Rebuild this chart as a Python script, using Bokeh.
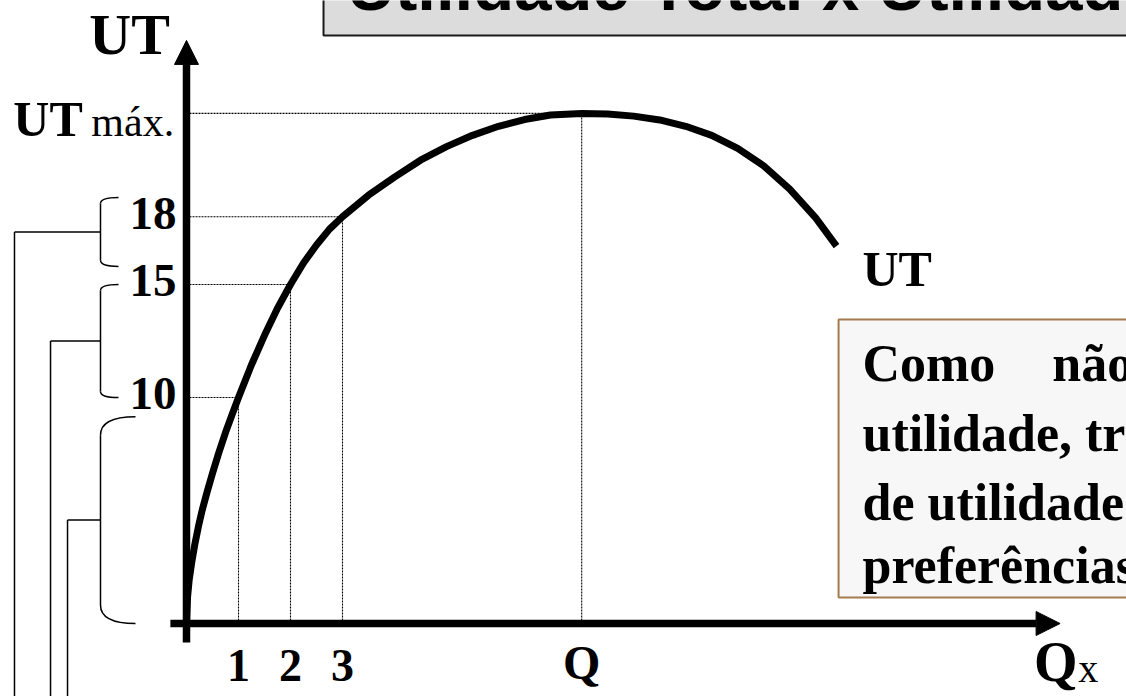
from bokeh.plotting import figure
from bokeh.models import Range1d, Arrow, NormalHead
from bokeh.core.properties import value
from bokeh.embed import file_html
from bokeh.resources import INLINE

# ---- data -------------------------------------------------------------
# Total utility (UT) as a function of the quantity consumed (Qx)
quantity = [0, 0.02, 0.05, 0.1, 0.16, 0.23, 0.3, 0.4, 0.5, 0.62, 0.75, 0.87,
            1.0, 1.25, 1.5, 1.75, 2.0, 2.25, 2.5, 2.75, 3.0, 3.5, 4.0, 4.5,
            5.0, 5.5, 6.0, 6.5, 7.0, 7.6, 8.1, 8.6, 9.1, 9.6, 10.1, 10.6,
            11.1, 11.6, 12.1, 12.5]
total_utility = [0, 1.17, 1.9, 2.7, 3.5, 4.3, 5.0, 5.85, 6.65, 7.55, 8.45, 9.2,
                 10.0, 11.45, 12.75, 13.95, 15.0, 15.95, 16.75, 17.45, 18.0,
                 18.95, 19.75, 20.5, 21.1, 21.6, 22.0, 22.3, 22.5, 22.57,
                 22.54, 22.45, 22.28, 22.0, 21.6, 21.02, 20.25, 19.22, 17.95,
                 16.7]

# highlighted units and their total utility
marked_q = [1, 2, 3]
marked_ut = [10, 15, 18]
q_tick_labels = ["1", "2", "3"]
ut_tick_labels = ["10", "15", "18"]

# quantity at which total utility peaks, and that peak
q_peak = 7.6
ut_peak = 22.57

title_text = "Utilidade Total x Utilidade"
note_first_line = ["Como", "não"]
note_lines = ["utilidade, tr", "de utilidade", "preferências"]

SERIF = value("Liberation Serif")
SANS = value("Liberation Sans")

# ---- figure -----------------------------------------------------------
p = figure(width=1126, height=696, output_backend="svg", toolbar_location=None,
           x_axis_type=None, y_axis_type=None, min_border=0,
           x_range=Range1d(-3.577, 18.077), y_range=Range1d(-3.230, 27.566))
p.outline_line_color = None
p.background_fill_color = "white"
p.border_fill_color = "white"

# title banner
p.quad(left=[2.635], right=[18.6], bottom=[26.02], top=[28.5],
       fill_color="#dcdcdc", line_color="#1a1a1a", line_width=2)
p.text(x=[3.08], y=[27.08], text=[title_text], text_font=SANS,
       text_font_style="bold", text_font_size="67px", text_color="black",
       text_baseline="bottom", y_offset=13)

# dotted guides from the axes to the marked points
guide_q = marked_q + [q_peak]
guide_ut = marked_ut + [ut_peak]
p.segment(x0=[0] * len(guide_q), y0=guide_ut, x1=guide_q, y1=guide_ut,
          line_color="black", line_width=1.1, line_dash="2 1")
p.segment(x0=guide_q, y0=[0] * len(guide_q), x1=guide_q, y1=guide_ut,
          line_color="black", line_width=1.1, line_dash="2 1")

# total utility curve
p.line(quantity, total_utility, line_color="black", line_width=7,
       line_join="round")

# axes with arrow heads
p.add_layout(Arrow(start=None, end=NormalHead(size=24, fill_color="black",
                                              line_color="black", line_width=1),
                   x_start=-0.31, y_start=0, x_end=16.8, y_end=0,
                   line_color="black", line_width=7.5))
p.add_layout(Arrow(start=None, end=NormalHead(size=24, fill_color="black",
                                              line_color="black", line_width=1),
                   x_start=0, y_start=-0.84, x_end=0, y_end=25.8,
                   line_color="black", line_width=7.5))

# tick labels
p.text(x=[-0.19] * len(marked_ut), y=marked_ut, text=ut_tick_labels,
       text_font=SERIF, text_font_style="bold", text_font_size="47px",
       text_align="right", text_baseline="bottom", y_offset=12)
p.text(x=marked_q, y=[0] * len(marked_q), text=q_tick_labels,
       text_font=SERIF, text_font_style="bold", text_font_size="46px",
       text_align="center", text_baseline="bottom", y_offset=57)
p.text(x=[q_peak], y=[0], text=["Q"], text_font=SERIF, text_font_style="bold",
       text_font_size="48px", text_align="center", text_baseline="bottom",
       y_offset=65)

# axis names
p.text(x=[-1.87], y=[0], text=["UT"], text_font=SERIF, text_font_style="bold",
       text_font_size="58px", text_baseline="bottom", y_offset=-557)
p.text(x=[-3.33], y=[ut_peak], text=["UT"], text_font=SERIF,
       text_font_style="bold", text_font_size="50px", text_baseline="bottom",
       y_offset=34)
p.text(x=[-1.83], y=[ut_peak], text=["máx."], text_font=SERIF,
       text_font_size="42px", text_baseline="bottom", y_offset=32)
p.text(x=[16.3], y=[0], text=["Q"], text_font=SERIF, text_font_style="bold",
       text_font_size="56px", text_baseline="bottom", y_offset=69)
p.text(x=[17.15], y=[0], text=["x"], text_font=SERIF, text_font_size="40px",
       text_baseline="bottom", y_offset=67)

# curve name next to its end
p.text(x=[13.0], y=[total_utility[-1]], text=["UT"], text_font=SERIF,
       text_font_style="bold", text_font_size="50px", text_baseline="bottom",
       y_offset=51)

# note box
p.quad(left=[13.0 - 0.46], right=[18.6], bottom=[1.15], top=[13.45],
       fill_color="#f7f7f7", line_color="#a47a4e", line_width=2)
p.text(x=[13.0, 16.65], y=[10.71, 10.71], text=note_first_line,
       text_font=SERIF, text_font_style="bold", text_font_size="52px",
       text_baseline="bottom", y_offset=11)
p.text(x=[13.0] * len(note_lines), y=[7.65, 4.56, 1.77], text=note_lines,
       text_font=SERIF, text_font_style="bold", text_font_size="52px",
       text_baseline="bottom", y_offset=11)

# braces grouping the utility increments on the left
brace_spans = [(marked_ut[2], marked_ut[1]), (marked_ut[1], marked_ut[0]),
               (marked_ut[0], 0)]
brace_pads = [(0.85, 0.8), (0.0, 0.0), (-0.85, 0.0)]
hook_sizes = [(0.346, 0.27), (0.346, 0.27), (0.673, 0.82)]
leader_x = [-3.308, -2.615, -2.288]
spine = -1.654
for (hi, lo), (tp, bp), (hw, hh), lx in zip(brace_spans, brace_pads,
                                             hook_sizes, leader_x):
    top = hi + tp
    bot = lo + bp
    mid = (top + bot) / 2
    p.quadratic(x0=[spine, spine], y0=[top - hh, bot + hh],
                x1=[spine + hw, spine + hw], y1=[top, bot],
                cx=[spine, spine], cy=[top, bot],
                line_color="black", line_width=1.5)
    p.segment(x0=[spine, lx, lx], y0=[top - hh, mid, mid],
              x1=[spine, spine, lx], y1=[bot + hh, mid, -3.6],
              line_color="black", line_width=1.5)

open("out.html", "w").write(file_html(p, INLINE))
